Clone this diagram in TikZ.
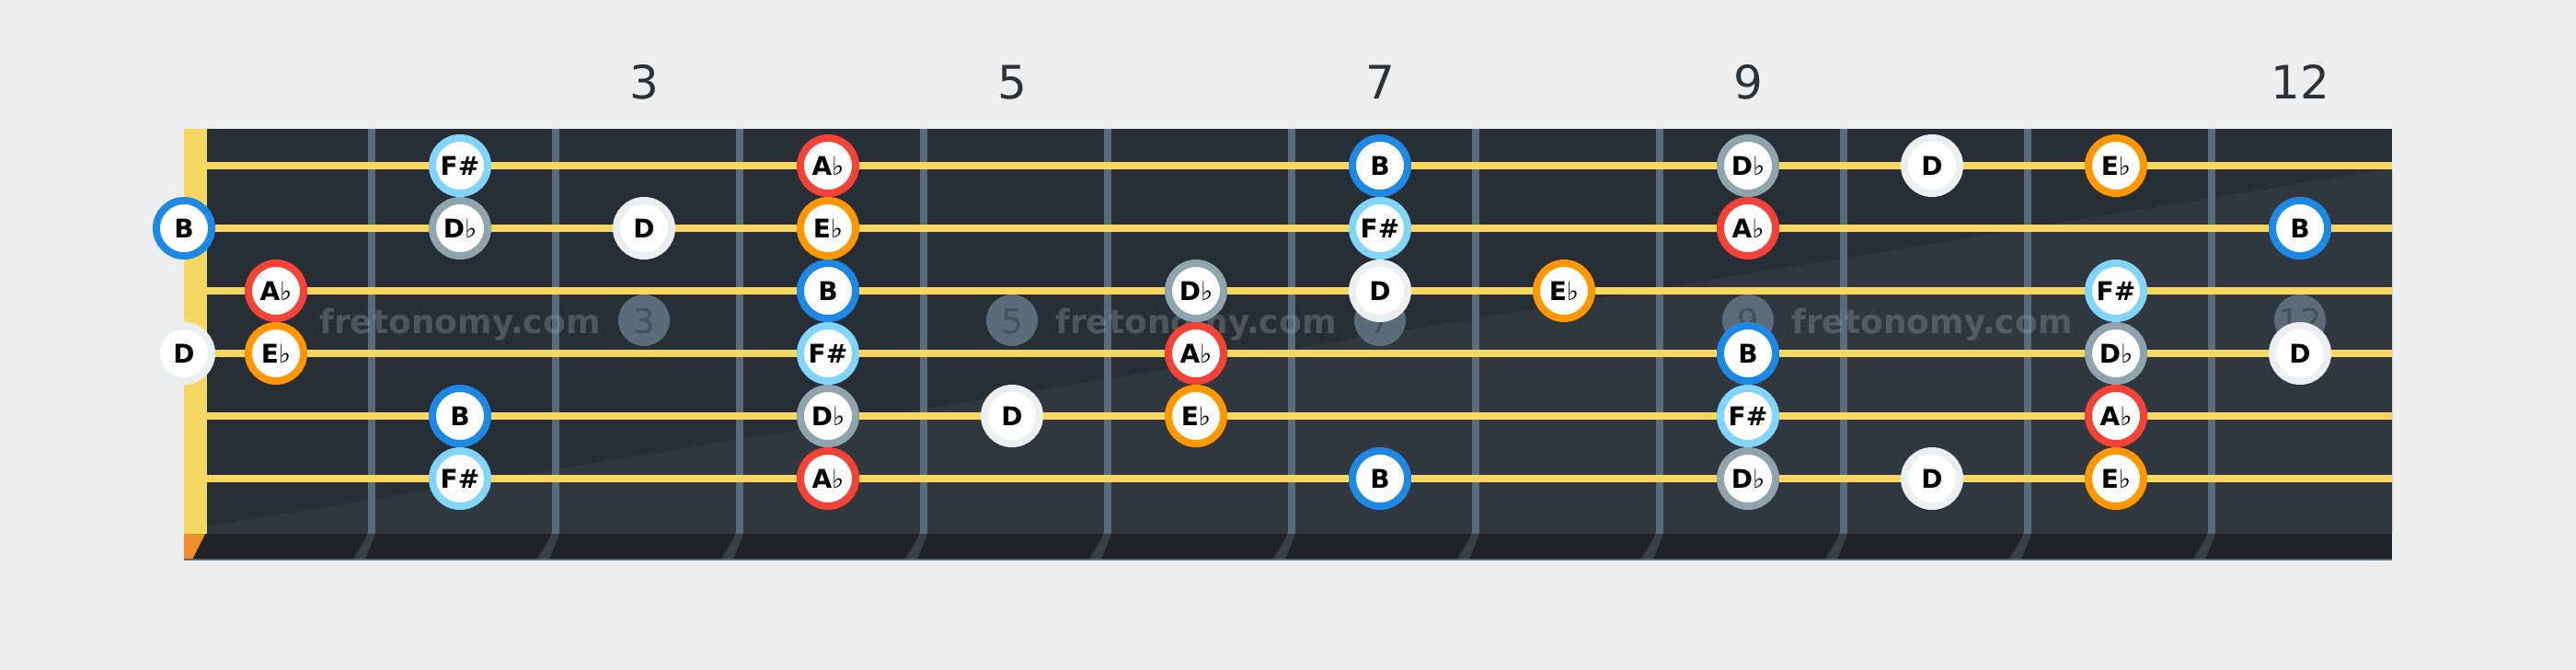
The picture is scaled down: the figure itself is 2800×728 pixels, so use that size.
\documentclass[tikz,border=0pt]{standalone}
\usepackage{fontspec}
\setmainfont{DejaVu Sans}
\definecolor{bg}{HTML}{EDEEF0}
\definecolor{board}{HTML}{282E36}
\definecolor{boardlt}{HTML}{31373F}
\definecolor{strip}{HTML}{202327}
\definecolor{fretc}{HTML}{5B6B78}
\definecolor{shadowc}{HTML}{3A3F45}
\definecolor{strc}{HTML}{F7D862}
\definecolor{nutbot}{HTML}{EF8F2A}
\definecolor{cB}{HTML}{1E88E5}
\definecolor{cF}{HTML}{81D4FA}
\definecolor{cDb}{HTML}{90A4AE}
\definecolor{cD}{HTML}{ECEFF1}
\definecolor{cAb}{HTML}{F44336}
\definecolor{cEb}{HTML}{FF9800}
\definecolor{numc}{HTML}{2A323A}
\definecolor{wmtext}{HTML}{9AA0A6}
\definecolor{wmcirc}{HTML}{5C6B78}
\definecolor{wmdig}{HTML}{46525C}
\newcommand\fl{{\mdseries ♭}}
\tikzset{
  note/.style={circle, fill=white, draw=#1, line width=8pt, minimum size=60pt,
    inner sep=0pt, text=black, font=\fontsize{28}{28}\selectfont\bfseries,
    text height=20.5pt, text depth=0pt},
  fretnum/.style={text=numc, font=\fontsize{50}{50}\selectfont, inner sep=0pt,
    text height=36.5pt, text depth=0pt},
  wmark/.style={text=wmtext, text opacity=0.35, font=\fontsize{36}{36}\selectfont\bfseries,
    inner sep=0pt, anchor=base},
  wmcircle/.style={circle, fill=wmcirc, minimum size=56pt, inner sep=0pt},
  wmdigit/.style={text=wmdig, font=\fontsize{37}{37}\selectfont, inner sep=0pt, anchor=base},
}
\begin{document}
\begin{tikzpicture}[x=1pt,y=-1pt]
\fill[bg] (0,0) rectangle (2800,728);
\useasboundingbox (0,0) rectangle (2800,728);
% fretboard
\fill[board] (225,140) rectangle (2600,580);
\fill[boardlt] (225,572) -- (2600,183) -- (2600,580) -- (225,580) -- cycle;
\foreach \k in {1,...,11} {
  \fill[fretc] (200+200*\k,140) rectangle (208+200*\k,580);
}
\fill[strc] (200,140) rectangle (225,580);
% bottom edge
\fill[strip] (200,580) rectangle (2600,608);
\fill[nutbot] (200,580) -- (223,580) -- (209,608) -- (200,608) -- cycle;
\foreach \k in {1,...,11} {
  \fill[shadowc] (200+200*\k,580) -- (208+200*\k,580) -- (197+200*\k,608) -- (184+200*\k,608) -- cycle;
}
\fill[fretc] (200,607) rectangle (2600,609);
% fret numbers
\foreach \f/\n in {700/3,1100/5,1500/7,1900/9,2500/12} {
  \node[fretnum] (num\n) at (\f,89) {\n};
}
% watermark
\node[wmark] (wm1) at (500,362) {fretonomy.com};
\node[wmark] (wm2) at (1300,362) {fretonomy.com};
\node[wmark] (wm3) at (2100,362) {fretonomy.com};
\foreach \f/\n in {700/3,1100/5,1500/7,1900/9,2500/12} {
  \node[wmcircle] (wmc\n) at (\f,348) {};
  \node[wmdigit] (wmd\n) at (\f,362) {\n};
}
% strings
\foreach \s in {1,...,6} {
  \fill[strc] (225,176+68*\s-68) rectangle (2600,184+68*\s-68);
}
% notes
\foreach \s/\f/\col/\lbl in {
  1/2/cF/{F\#}, 1/4/cAb/{A\fl}, 1/7/cB/{B}, 1/9/cDb/{D\fl}, 1/10/cD/{D}, 1/11/cEb/{E\fl},
  2/0/cB/{B}, 2/2/cDb/{D\fl}, 2/3/cD/{D}, 2/4/cEb/{E\fl}, 2/7/cF/{F\#}, 2/9/cAb/{A\fl}, 2/12/cB/{B},
  3/1/cAb/{A\fl}, 3/4/cB/{B}, 3/6/cDb/{D\fl}, 3/7/cD/{D}, 3/8/cEb/{E\fl}, 3/11/cF/{F\#},
  4/0/cD/{D}, 4/1/cEb/{E\fl}, 4/4/cF/{F\#}, 4/6/cAb/{A\fl}, 4/9/cB/{B}, 4/11/cDb/{D\fl}, 4/12/cD/{D},
  5/2/cB/{B}, 5/4/cDb/{D\fl}, 5/5/cD/{D}, 5/6/cEb/{E\fl}, 5/9/cF/{F\#}, 5/11/cAb/{A\fl},
  6/2/cF/{F\#}, 6/4/cAb/{A\fl}, 6/7/cB/{B}, 6/9/cDb/{D\fl}, 6/10/cD/{D}, 6/11/cEb/{E\fl}} {
  \pgfmathtruncatemacro\xx{\f==0 ? 200 : 100+200*\f}
  \pgfmathtruncatemacro\yy{180+68*(\s-1)}
  \node[note=\col] (n\s-\f) at (\xx,\yy) {\lbl};
}
\end{tikzpicture}
\end{document}
